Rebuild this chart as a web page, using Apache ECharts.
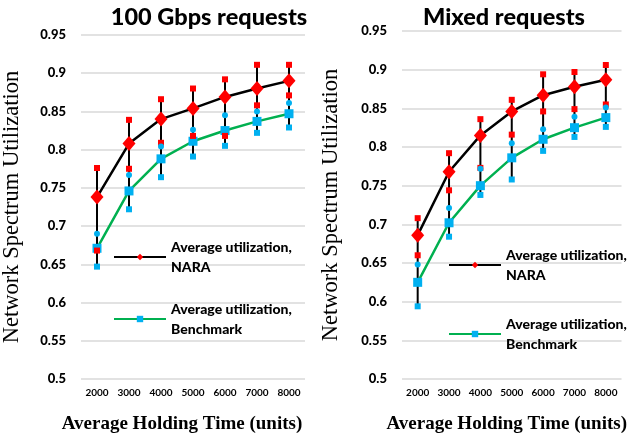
<!DOCTYPE html>
<html>
<head>
<meta charset="utf-8">
<script src="https://cdn.jsdelivr.net/npm/echarts@6/dist/echarts.min.js"></script>
<style>
  html, body { margin: 0; padding: 0; background: #fff; }
  #main { width: 630px; height: 439px; }
</style>
</head>
<body>
<div id="main"></div>
<script>
// holding time categories
var holdTimes = ['2000', '3000', '4000', '5000', '6000', '7000', '8000'];
var yTicks = [0.5, 0.95, 0.05]; // min, max, step

// 100 Gbps requests
var gbpsNaraAvg   = [0.738, 0.808, 0.840, 0.854, 0.869, 0.880, 0.890];
var gbpsNaraHigh  = [0.776, 0.839, 0.866, 0.880, 0.892, 0.911, 0.911];
var gbpsNaraLow   = [0.668, 0.775, 0.809, 0.818, 0.818, 0.858, 0.871];
var gbpsBenchAvg  = [0.671, 0.746, 0.788, 0.811, 0.825, 0.837, 0.847];
var gbpsBenchHigh = [0.690, 0.767, 0.804, 0.826, 0.845, 0.850, 0.861];
var gbpsBenchLow  = [0.647, 0.722, 0.764, 0.791, 0.805, 0.822, 0.829];

// Mixed requests
var mixNaraAvg   = [0.686, 0.768, 0.815, 0.846, 0.867, 0.878, 0.887];
var mixNaraHigh  = [0.708, 0.792, 0.836, 0.861, 0.894, 0.897, 0.906];
var mixNaraLow   = [0.660, 0.744, 0.773, 0.816, 0.846, 0.849, 0.855];
var mixBenchAvg  = [0.625, 0.702, 0.750, 0.786, 0.810, 0.825, 0.838];
var mixBenchHigh = [0.648, 0.721, 0.772, 0.805, 0.823, 0.839, 0.851];
var mixBenchLow  = [0.594, 0.684, 0.738, 0.758, 0.795, 0.813, 0.826];

var NARA = 'Average utilization,\nNARA';
var BENCH = 'Average utilization,\nBenchmark';
var FONT = 'Lato';
var RED = '#ff0000', BLUE = '#00b0f0', GREEN = '#00b050';

var chart = echarts.init(document.getElementById('main'));

// high-low line over all the series at each category (like excel)
function hiLoData(sets) {
    return holdTimes.map(function (c, i) {
        var vals = sets.map(function (s) { return s[i]; });
        return [i, Math.max.apply(null, vals), Math.min.apply(null, vals)];
    });
}

function seriesFor(idx, naraAvg, naraHigh, naraLow, benchAvg, benchHigh, benchLow) {
    var small = function (name, data, symbol, color) {
        return {
            name: name, type: 'line', xAxisIndex: idx, yAxisIndex: idx,
            data: data, symbol: symbol, symbolSize: 6,
            lineStyle: { width: 0 }, itemStyle: { color: color },
            z: 4, silent: true
        };
    };
    return [
        {
            type: 'custom', xAxisIndex: idx, yAxisIndex: idx, z: 1, silent: true,
            data: hiLoData([naraHigh, naraLow, benchHigh, benchLow, naraAvg, benchAvg]),
            encode: { x: 0, y: [1, 2] },
            renderItem: function (params, api) {
                var a = api.coord([api.value(0), api.value(1)]);
                var b = api.coord([api.value(0), api.value(2)]);
                return {
                    type: 'line',
                    shape: { x1: a[0], y1: a[1], x2: b[0], y2: b[1] },
                    style: { stroke: '#000', lineWidth: 2 }
                };
            }
        },
        {
            name: BENCH, type: 'line', xAxisIndex: idx, yAxisIndex: idx,
            data: benchAvg, symbol: 'rect', symbolSize: 9,
            lineStyle: { color: GREEN, width: 2.5 },
            itemStyle: { color: BLUE }, z: 3
        },
        {
            name: NARA, type: 'line', xAxisIndex: idx, yAxisIndex: idx,
            data: naraAvg, symbol: 'diamond', symbolSize: [13, 15],
            lineStyle: { color: '#000', width: 2.5 },
            itemStyle: { color: RED }, z: 3
        },
        small('naraHigh' + idx, naraHigh, 'rect', RED),
        small('naraLow' + idx, naraLow, 'rect', RED),
        small('benchHigh' + idx, benchHigh, 'circle', BLUE),
        small('benchLow' + idx, benchLow, 'rect', BLUE)
    ];
}

function xAxisFor(idx, shift) {
    return {
        type: 'category', gridIndex: idx, data: holdTimes,
        axisLine: { show: false }, axisTick: { show: false },
        axisLabel: { margin: 9, fontFamily: FONT, fontWeight: 'bold', fontSize: 10, color: '#000' },
        name: 'Average Holding Time (units)', nameLocation: 'middle', nameGap: 36,
        nameTextStyle: {
            fontFamily: 'Liberation Serif', fontWeight: 'bold', fontSize: 19, color: '#000',
            padding: [0, shift, 0, 0]
        }
    };
}

function yAxisFor(idx, gap) {
    return {
        type: 'value', gridIndex: idx, min: yTicks[0], max: yTicks[1], interval: yTicks[2],
        axisLine: { show: false }, axisTick: { show: false },
        splitLine: { lineStyle: { color: '#d9d9d9', width: 1.5 } },
        axisLabel: {
            margin: 15, fontFamily: FONT, fontWeight: 900, fontSize: 13, color: '#000',
            formatter: function (v) { return String(+v.toFixed(2)); }
        },
        name: 'Network Spectrum Utilization', nameLocation: 'middle', nameGap: gap,
        nameTextStyle: { fontFamily: 'Liberation Serif', fontSize: 22.5, color: '#000' }
    };
}

function legendFor(name, left, top, h) {
    return {
        data: [name], orient: 'vertical', left: left, top: top,
        itemWidth: 52, itemHeight: h, itemGap: 0, selectedMode: false,
        textStyle: {
            fontFamily: FONT, fontWeight: 900, fontSize: 14, color: '#000',
            lineHeight: 20, padding: [20, 0, 0, 0]
        }
    };
}

var option = {
    backgroundColor: '#fff',
    animation: false,
    title: [
        { text: '100 Gbps requests', left: 204, top: 0, textAlign: 'center',
          textStyle: { fontFamily: FONT, fontWeight: 900, fontSize: 23.5, color: '#000' } },
        { text: 'Mixed requests', left: 499, top: 0, textAlign: 'center',
          textStyle: { fontFamily: FONT, fontWeight: 900, fontSize: 23.5, color: '#000' } }
    ],
    legend: [
        legendFor(NARA, 108, 222, 8),
        legendFor(BENCH, 108, 284, 8),
        legendFor(NARA, 443, 230, 8),
        legendFor(BENCH, 443, 299, 8)
    ],
    grid: [
        { left: 75, top: 35, width: 230, height: 344 },
        { left: 402, top: 31, width: 230, height: 350 }
    ],
    xAxis: [xAxisFor(0, 22), xAxisFor(1, 10)],
    yAxis: [yAxisFor(0, 57), yAxisFor(1, 59)],
    series: seriesFor(0, gbpsNaraAvg, gbpsNaraHigh, gbpsNaraLow, gbpsBenchAvg, gbpsBenchHigh, gbpsBenchLow)
        .concat(seriesFor(1, mixNaraAvg, mixNaraHigh, mixNaraLow, mixBenchAvg, mixBenchHigh, mixBenchLow))
};

chart.setOption(option);
</script>
</body>
</html>
